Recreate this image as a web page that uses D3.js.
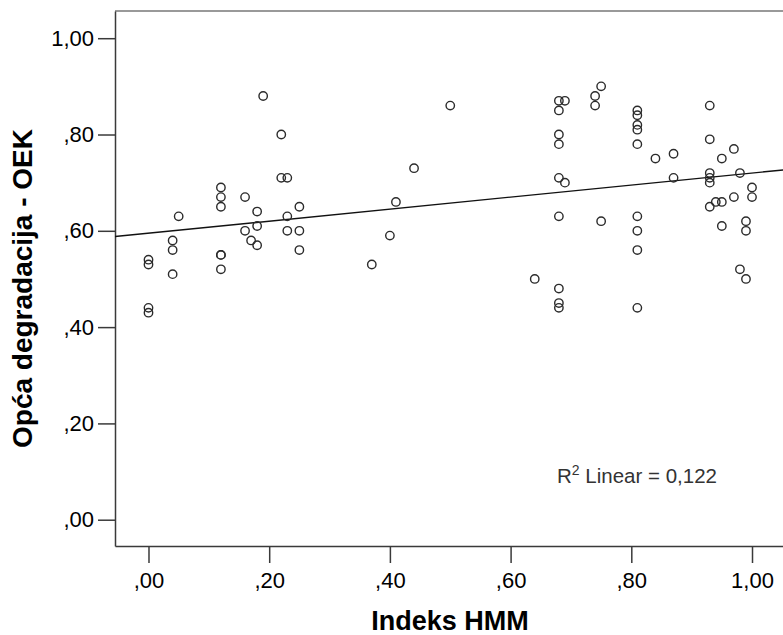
<!DOCTYPE html>
<meta charset="utf-8">
<script src="https://d3js.org/d3.v7.min.js"></script>
<style>
  body { margin: 0; background: #fff; }
  text { font-family: "Liberation Sans", Arial, sans-serif; }
</style>
<div id="chart"></div>
<script>
// data: Indeks HMM (x) vs Opća degradacija - OEK (y)
var hmm = [
  0.00, 0.00, 0.00, 0.00,
  0.04, 0.04, 0.04,
  0.05,
  0.12, 0.12, 0.12, 0.12, 0.12, 0.12,
  0.16, 0.16,
  0.17,
  0.18, 0.18, 0.18,
  0.19,
  0.22, 0.22,
  0.23, 0.23, 0.23,
  0.25, 0.25, 0.25,
  0.37, 0.40, 0.41, 0.44, 0.50, 0.64,
  0.68, 0.68, 0.68, 0.68, 0.68, 0.68, 0.68, 0.68, 0.68,
  0.69, 0.69,
  0.74, 0.74,
  0.75, 0.75,
  0.81, 0.81, 0.81, 0.81, 0.81, 0.81, 0.81, 0.81, 0.81,
  0.84,
  0.87, 0.87,
  0.93, 0.93, 0.93, 0.93, 0.93, 0.93,
  0.94,
  0.95, 0.95, 0.95,
  0.97, 0.97,
  0.98, 0.98,
  0.99, 0.99, 0.99,
  1.00, 1.00
];
var oek = [
  0.54, 0.53, 0.44, 0.43,
  0.58, 0.56, 0.51,
  0.63,
  0.69, 0.67, 0.65, 0.55, 0.55, 0.52,
  0.67, 0.60,
  0.58,
  0.64, 0.61, 0.57,
  0.88,
  0.80, 0.71,
  0.71, 0.63, 0.60,
  0.65, 0.60, 0.56,
  0.53, 0.59, 0.66, 0.73, 0.86, 0.50,
  0.87, 0.85, 0.80, 0.78, 0.71, 0.63, 0.48, 0.45, 0.44,
  0.87, 0.70,
  0.88, 0.86,
  0.90, 0.62,
  0.85, 0.84, 0.82, 0.81, 0.78, 0.63, 0.60, 0.56, 0.44,
  0.75,
  0.76, 0.71,
  0.86, 0.79, 0.72, 0.71, 0.70, 0.65,
  0.66,
  0.75, 0.66, 0.61,
  0.77, 0.67,
  0.72, 0.52,
  0.62, 0.60, 0.50,
  0.69, 0.67
];

// linear fit line
var fitIntercept = 0.595;
var fitSlope = 0.125;
var r2Label = "0,122";

var xTicks = [0, 0.2, 0.4, 0.6, 0.8, 1.0];
var yTicks = [0, 0.2, 0.4, 0.6, 0.8, 1.0];
var xDomain = [-0.0555, 1.0555];
var yDomain = [-0.0546, 1.0565];

var W = 783, H = 635;
var plotLeft = 115, plotTop = 11, plotRight = 785.5, plotBottom = 546;

var svg = d3.select("#chart").append("svg")
    .attr("width", W)
    .attr("height", H);

var x = d3.scaleLinear().domain(xDomain).range([plotLeft, plotRight]);
var y = d3.scaleLinear().domain(yDomain).range([plotBottom, plotTop]);

// SPSS style numbers: ",20" and "1,00"
var fmt = function(v) {
  var s = d3.format(".2f")(v).replace(".", ",");
  return s.charAt(0) === "0" ? s.slice(1) : s;
};

var axisColor = "#3a3a3a";

// top frame line
svg.append("line")
    .attr("x1", plotLeft).attr("x2", plotRight)
    .attr("y1", plotTop).attr("y2", plotTop)
    .attr("stroke", "#777").attr("stroke-width", 1.5);

// x axis
var gx = svg.append("g")
    .attr("transform", "translate(0," + plotBottom + ")")
    .call(d3.axisBottom(x).tickValues(xTicks).tickFormat(fmt)
      .tickSize(17).tickSizeOuter(0).tickPadding(9));

// y axis
var gy = svg.append("g")
    .attr("transform", "translate(" + plotLeft + ",0)")
    .call(d3.axisLeft(y).tickValues(yTicks).tickFormat(fmt)
      .tickSize(17).tickSizeOuter(0).tickPadding(4));

[gx, gy].forEach(function(g) {
  g.selectAll("path, line").attr("stroke", axisColor).attr("stroke-width", 1.5);
  g.selectAll("text")
    .attr("fill", "#000")
    .style("font-size", "22px");
});

// regression line
svg.append("line")
    .attr("x1", x(xDomain[0]))
    .attr("y1", y(fitIntercept + fitSlope * xDomain[0]))
    .attr("x2", x(xDomain[1]))
    .attr("y2", y(fitIntercept + fitSlope * xDomain[1]))
    .attr("stroke", "#111")
    .attr("stroke-width", 1.4);

// points
svg.append("g").selectAll("circle")
  .data(hmm.map(function(v, i) { return [v, oek[i]]; }))
  .enter().append("circle")
    .attr("cx", function(d) { return x(d[0]); })
    .attr("cy", function(d) { return y(d[1]); })
    .attr("r", 4.2)
    .attr("fill", "none")
    .attr("stroke", "#2b2b2b")
    .attr("stroke-width", 1.4);

// R2 label
var r2 = svg.append("text")
    .attr("x", 557)
    .attr("y", 483)
    .attr("fill", "#333")
    .style("font-size", "20.5px");
r2.append("tspan").text("R");
r2.append("tspan").attr("dy", -8).style("font-size", "14px").text("2");
r2.append("tspan").attr("dy", 8).text(" Linear = " + r2Label);

// axis titles
svg.append("text")
    .attr("x", 450)
    .attr("y", 630)
    .attr("text-anchor", "middle")
    .style("font-size", "27px")
    .style("font-weight", "bold")
    .text("Indeks HMM");

svg.append("text")
    .attr("transform", "translate(32," + ((plotTop + plotBottom) / 2 + 10) + ") rotate(-90)")
    .attr("text-anchor", "middle")
    .style("font-size", "28px")
    .style("font-weight", "bold")
    .text("Opća degradacija - OEK");
</script>
